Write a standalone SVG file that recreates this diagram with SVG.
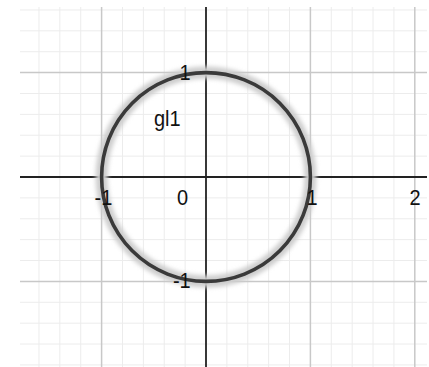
<svg xmlns="http://www.w3.org/2000/svg" width="429" height="367" viewBox="0 0 429 367">
<defs>
<style>
.minor{stroke:#ececec;stroke-width:1;fill:none}
.major{stroke:#c8c8c8;stroke-width:1.5;fill:none}
.axis{stroke:#222;stroke-width:2;fill:none}
.lbl{font-family:"Liberation Sans",Arial,sans-serif;font-size:20px;fill:#111}
</style>
<filter id="blur" x="-20%" y="-20%" width="140%" height="140%"><feGaussianBlur stdDeviation="2"/></filter>
</defs>
<rect width="429" height="367" fill="#fff"/>
<g id="grid">
<path class="minor" d="M38.96 7V367M59.84 7V367M80.72 7V367M122.48 7V367M143.36 7V367M164.24 7V367M185.12 7V367M226.88 7V367M247.76 7V367M268.64 7V367M289.52 7V367M331.28 7V367M352.16 7V367M373.04 7V367M393.92 7V367
M20 9.96H427M20 30.84H427M20 51.72H427M20 93.48H427M20 114.36H427M20 135.24H427M20 156.12H427M20 197.88H427M20 218.76H427M20 239.64H427M20 260.52H427M20 302.28H427M20 323.16H427M20 344.04H427M20 364.92H427"/>
<path class="major" d="M101.6 7V367M310.4 7V367M414.8 7V367M20 72.6H427M20 281.4H427"/>
</g>
<g id="axes">
<path class="axis" d="M20 177H427"/>
<path class="axis" d="M206 7V367" style="stroke-width:1.8"/>
</g>
<g id="gl1">
<circle cx="206" cy="177" r="104.4" fill="none" stroke="#cdcdcd" stroke-width="12" filter="url(#blur)"/>
<circle cx="206" cy="177" r="104.4" fill="none" stroke="#3a3a3a" stroke-width="3.6"/>
</g>
<g id="labels">
<text class="lbl" transform="translate(103.5 205) scale(1 1.12)" text-anchor="middle">-1</text>
<text class="lbl" transform="translate(182.5 205) scale(1 1.12)" text-anchor="middle">0</text>
<text class="lbl" transform="translate(312 205) scale(1 1.12)" text-anchor="middle">1</text>
<text class="lbl" transform="translate(415 205) scale(1 1.12)" text-anchor="middle">2</text>
<text class="lbl" transform="translate(190.7 80) scale(1 1.12)" text-anchor="end">1</text>
<text class="lbl" transform="translate(190.7 288) scale(1 1.12)" text-anchor="end">-1</text>
<text class="lbl" transform="translate(154 126) scale(1 1.12)">gl1</text>
</g>
</svg>
